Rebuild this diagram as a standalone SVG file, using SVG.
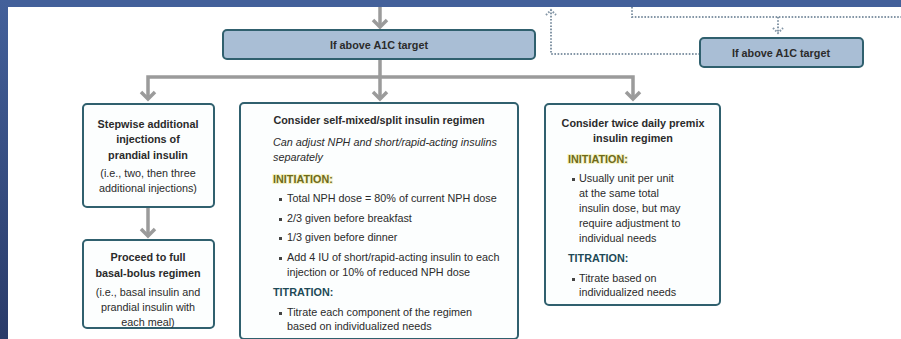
<svg xmlns="http://www.w3.org/2000/svg" width="901" height="339" viewBox="0 0 901 339">
<defs>
<linearGradient id="lb" x1="0" y1="0" x2="0" y2="1">
<stop offset="0" stop-color="#43609a"/>
<stop offset="1" stop-color="#2a3b69"/>
</linearGradient>
<style>
.box{fill:#fcfefe;stroke:#30606e;stroke-width:2}
.tbox{fill:#a9bed5;stroke:#30606e;stroke-width:2}
.con{fill:none;stroke:#9b9b9b;stroke-width:3.5}
.head{fill:none;stroke:#9b9b9b;stroke-width:3.5;stroke-linejoin:miter}
.dot{fill:none;stroke:#8496a6;stroke-width:2;stroke-dasharray:1.6 1.6}
text{font-family:"Liberation Sans",Arial,sans-serif;font-size:10.8px;fill:#2b2b2b}
.b{font-weight:bold}
.c{text-anchor:middle}
.i{font-style:italic}
.ini{font-weight:bold;fill:#6e6a1a;stroke:#f4f2c4;stroke-width:2;paint-order:stroke}
.tit{font-weight:bold;fill:#1e4a57}
.bul{fill:#444}
</style>
</defs>
<rect x="0" y="0" width="901" height="339" fill="#ffffff"/>
<rect x="0" y="0" width="901" height="7" fill="#43609a"/>
<rect x="0" y="0" width="8" height="339" fill="url(#lb)"/>

<g id="connectors">
<path class="con" d="M380 7 V27"/>
<path class="head" d="M373 20 L380 27 L387 20"/>
<path class="con" d="M380 59 V99 M148 97 V77 H633 V97"/>
<path class="head" d="M141 92 L148 99 L155 92 M373 92 L380 99 L387 92 M626 92 L633 99 L640 92"/>
<path class="con" d="M148 208 V236"/>
<path class="head" d="M141 229 L148 236 L155 229"/>
<path class="dot" d="M700 54 H551 V10"/>
<path class="dot" d="M546 15 L551 10 L556 15"/>
<path class="dot" d="M632 7 V17 H901 M778 17 V32"/>
<path class="dot" d="M773 28 L778 33 L783 28"/>
</g>

<g id="top-target">
<rect class="tbox" x="223" y="30" width="312" height="29" rx="4"/>
<text class="b c" x="379" y="49">If above A1C target</text>
</g>

<g id="right-target">
<rect class="tbox" x="700" y="38" width="163" height="29" rx="4"/>
<text class="b c" x="781" y="57">If above A1C target</text>
</g>

<g id="stepwise">
<rect class="box" x="83" y="104" width="131" height="103" rx="4"/>
<text class="b c" x="148" y="128">Stepwise additional</text>
<text class="b c" x="148" y="143">injections of</text>
<text class="b c" x="148" y="159">prandial insulin</text>
<text class="c" x="148" y="177">(i.e., two, then three</text>
<text class="c" x="148" y="192">additional injections)</text>
</g>

<g id="basal-bolus">
<rect class="box" x="83" y="240" width="131" height="88" rx="4"/>
<text class="b c" x="148" y="261">Proceed to full</text>
<text class="b c" x="148" y="277">basal-bolus regimen</text>
<text class="c" x="148" y="296">(i.e., basal insulin and</text>
<text class="c" x="148" y="311">prandial insulin with</text>
<text class="c" x="148" y="326">each meal)</text>
</g>

<g id="self-mixed">
<rect class="box" x="240" y="103" width="278" height="236" rx="4"/>
<text class="b c" x="379" y="124">Consider self-mixed/split insulin regimen</text>
<text class="i" x="273" y="146">Can adjust NPH and short/rapid-acting insulins</text>
<text class="i" x="273" y="161">separately</text>
<text class="ini" x="273" y="183">INITIATION:</text>
<rect class="bul" x="279" y="198" width="3" height="3"/>
<text x="287" y="202">Total NPH dose = 80% of current NPH dose</text>
<rect class="bul" x="279" y="218" width="3" height="3"/>
<text x="287" y="222">2/3 given before breakfast</text>
<rect class="bul" x="279" y="237" width="3" height="3"/>
<text x="287" y="241">1/3 given before dinner</text>
<rect class="bul" x="279" y="257" width="3" height="3"/>
<text x="287" y="261">Add 4 IU of short/rapid-acting insulin to each</text>
<text x="287" y="276">injection or 10% of reduced NPH dose</text>
<text class="tit" x="273" y="296">TITRATION:</text>
<rect class="bul" x="279" y="312" width="3" height="3"/>
<text x="287" y="316">Titrate each component of the regimen</text>
<text x="287" y="330">based on individualized needs</text>
</g>

<g id="premix">
<rect class="box" x="545" y="104" width="175" height="201" rx="4"/>
<text class="b c" x="633" y="127">Consider twice daily premix</text>
<text class="b c" x="633" y="142">insulin regimen</text>
<text class="ini" x="568" y="163">INITIATION:</text>
<rect class="bul" x="572" y="178" width="3" height="3"/>
<text x="579" y="182">Usually unit per unit</text>
<text x="579" y="197">at the same total</text>
<text x="579" y="212">insulin dose, but may</text>
<text x="579" y="227">require adjustment to</text>
<text x="579" y="242">individual needs</text>
<text class="tit" x="568" y="262">TITRATION:</text>
<rect class="bul" x="572" y="278" width="3" height="3"/>
<text x="579" y="282">Titrate based on</text>
<text x="579" y="296">individualized needs</text>
</g>
</svg>
